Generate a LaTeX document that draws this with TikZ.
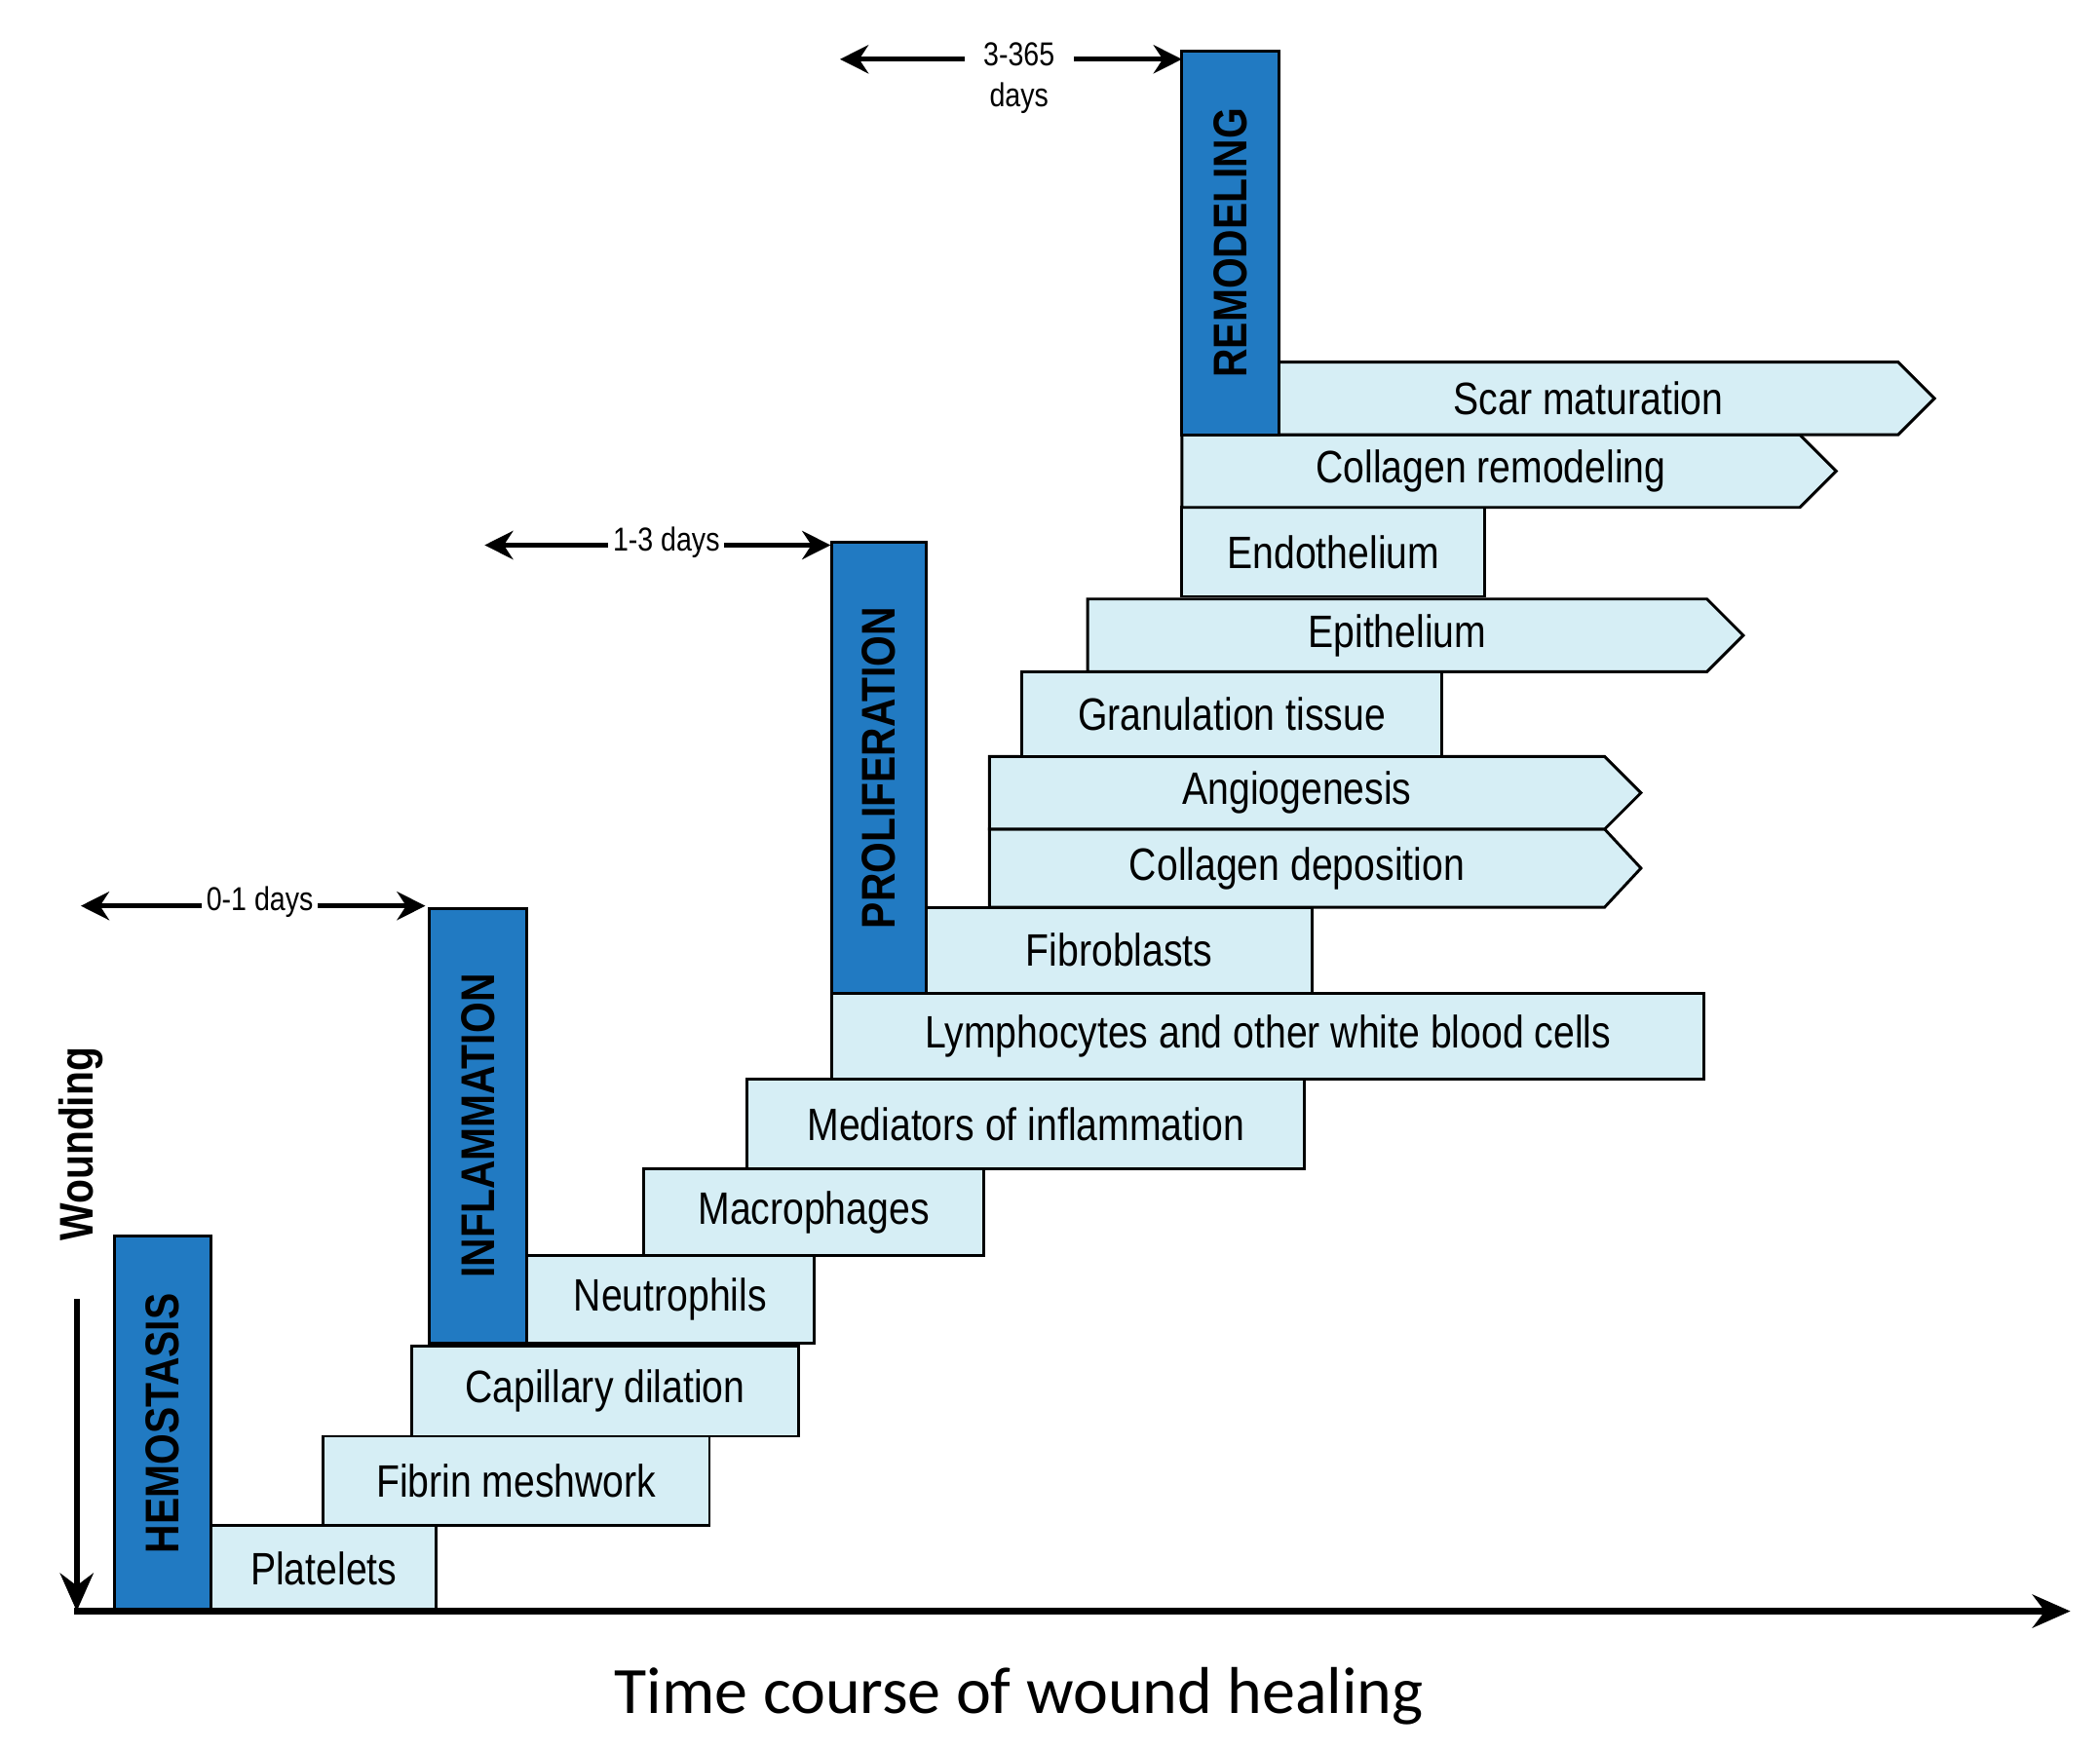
\documentclass[tikz,border=0pt]{standalone}
\usepackage{fontspec}
\setmainfont{Liberation Sans}[FakeStretch=0.84]
\newfontfamily\calfam{Carlito}
\usetikzlibrary{arrows.meta}
\definecolor{dk}{RGB}{33,122,194}
\definecolor{lt}{RGB}{214,238,245}
\tikzset{
 box/.style={draw=black,fill=lt,line width=0.6pt,inner sep=0pt,font=\fontsize{9.6}{11}\selectfont},
 phase/.style={draw=black,fill=dk,line width=0.6pt,inner sep=0pt},
 plab/.style={rotate=90,font=\bfseries\fontsize{10}{12}\selectfont},
 lab/.style={font=\fontsize{9.6}{11}\selectfont},
 rng/.style={line width=1pt,{Stealth[length=6pt,width=6pt]}-{Stealth[length=6pt,width=6pt]}},
 rlab/.style={font=\fontsize{7}{8.5}\selectfont,fill=white,inner sep=1pt,align=center}
}
\newcommand\bx[6]{\node[box,minimum width={(#4-#2)*0.01cm},minimum height={(#5-#3)*0.01cm}] (#1) at ({(#2+#4)/2},{(#3+#5)/2}) {#6};}
\newcommand\ph[6]{\node[phase,minimum width={(#4-#2)*0.01cm},minimum height={(#5-#3)*0.01cm}] (#1) at ({(#2+#4)/2},{(#3+#5)/2}) {};
 \node[plab] at (#1) {#6};}
\newcommand\ab[6]{\draw[box] (#2,#3) -- (#4,#3) -- ({#4+27},{(#3+#5)/2}) -- (#4,#5) -- (#2,#5) -- cycle;
 \node[lab] (#1) at ({(#2+#4)/2},{(#3+#5)/2}) {#6};}
\begin{document}
\begin{tikzpicture}[x=0.01cm,y=-0.01cm]
\useasboundingbox[fill=white] (0,0) rectangle (1560,1300);
\bx{pl}{157}{1133}{324}{1197}{Platelets}
\bx{fm}{240}{1067}{527}{1133}{Fibrin meshwork}
\bx{cd}{306}{1000}{593}{1067}{Capillary dilation}
\bx{ne}{391}{933}{605}{998}{Neutrophils}
\bx{ma}{478}{868}{731}{933}{Macrophages}
\bx{mi}{555}{802}{969}{868}{Mediators of inflammation}
\bx{ly}{618}{738}{1266}{802}{Lymphocytes and other white blood cells}
\bx{fb}{688}{674}{975}{738}{Fibroblasts}
\ab{cdp}{735}{616}{1192}{674}{Collagen deposition}
\ab{ag}{735}{562}{1192}{616}{Angiogenesis}
\bx{gt}{759}{499}{1071}{562}{Granulation tissue}
\ab{ep}{808}{445}{1268}{499}{Epithelium}
\bx{en}{878}{377}{1103}{443}{Endothelium}
\ab{cr}{878}{323}{1337}{377}{Collagen remodeling}
\ab{sm}{950}{269}{1410}{323}{Scar maturation}
\ph{he}{85}{918}{157}{1197}{HEMOSTASIS}
\ph{in}{319}{675}{391}{998}{INFLAMMATION}
\ph{pr}{618}{403}{688}{738}{PROLIFERATION}
\ph{re}{878}{38}{950}{323}{REMODELING}
% axes
\coordinate (o) at (55,1197); \coordinate (xe) at (1538,1197);
\coordinate (vs) at (57,965); \coordinate (ve) at (57,1197);
\draw[line width=1.3pt,-{Stealth[length=8pt,width=7pt]}] (o) -- (xe);
\draw[line width=1.3pt,-{Stealth[length=8pt,width=7pt]}] (vs) -- (ve);
\node[rotate=90,font=\bfseries\fontsize{10}{12}\selectfont] (wd) at (60,850) {Wounding};
\node[font=\calfam\fontsize{14}{16}\selectfont] (tc) at (757,1260) {Time course of wound healing};
% ranges
\coordinate (a1) at (60,673); \coordinate (a2) at (316,673);
\draw[rng] (a1) -- (a2); \node[rlab] (l1) at (193,670) {0-1 days};
\coordinate (b1) at (360,405); \coordinate (b2) at (617,405);
\draw[rng] (b1) -- (b2); \node[rlab] (l2) at (495,403) {1-3 days};
\coordinate (c1) at (624,44); \coordinate (c2) at (878,44);
\draw[rng] (c1) -- (c2); \node[rlab,inner xsep=4pt] (l3) at (757,58) {3-365\\days};
\end{tikzpicture}
\end{document}
